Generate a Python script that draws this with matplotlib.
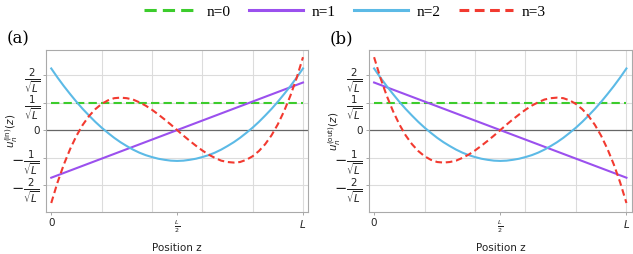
import numpy as np
from matplotlib import pyplot as plt

# sample positions along the cavity (in units of L)
z = np.linspace(0, 1, 41)
z_ends = [0, 1]

# values in units of 1/sqrt(L)
n0_in = [1.0, 1.0]
n1_in = [-1.73, 1.73]
n2_in = [2.24, 1.91, 1.60, 1.31, 1.03, 0.77, 0.53, 0.30, 0.09, -0.10, -0.28,
         -0.44, -0.58, -0.71, -0.82, -0.91, -0.98, -1.04, -1.08, -1.11, -1.12,
         -1.11, -1.08, -1.04, -0.98, -0.91, -0.82, -0.71, -0.58, -0.44, -0.28,
         -0.10, 0.09, 0.30, 0.53, 0.77, 1.03, 1.31, 1.60, 1.91, 2.24]
n3_in = [-2.65, -1.90, -1.25, -0.69, -0.21, 0.19, 0.51, 0.76, 0.95, 1.08, 1.16,
         1.18, 1.16, 1.11, 1.01, 0.89, 0.74, 0.57, 0.39, 0.20, 0.00,
         -0.20, -0.39, -0.57, -0.74, -0.89, -1.01, -1.11, -1.16, -1.18, -1.16,
         -1.08, -0.95, -0.76, -0.51, -0.19, 0.21, 0.69, 1.25, 1.90, 2.65]

n0_out = [1.0, 1.0]
n1_out = [1.73, -1.73]
n2_out = [2.24, 1.91, 1.60, 1.31, 1.03, 0.77, 0.53, 0.30, 0.09, -0.10, -0.28,
          -0.44, -0.58, -0.71, -0.82, -0.91, -0.98, -1.04, -1.08, -1.11, -1.12,
          -1.11, -1.08, -1.04, -0.98, -0.91, -0.82, -0.71, -0.58, -0.44, -0.28,
          -0.10, 0.09, 0.30, 0.53, 0.77, 1.03, 1.31, 1.60, 1.91, 2.24]
n3_out = [2.65, 1.90, 1.25, 0.69, 0.21, -0.19, -0.51, -0.76, -0.95, -1.08, -1.16,
          -1.18, -1.16, -1.11, -1.01, -0.89, -0.74, -0.57, -0.39, -0.20, 0.00,
          0.20, 0.39, 0.57, 0.74, 0.89, 1.01, 1.11, 1.16, 1.18, 1.16,
          1.08, 0.95, 0.76, 0.51, 0.19, -0.21, -0.69, -1.25, -1.90, -2.65]

labels = ['n=0', 'n=1', 'n=2', 'n=3']
ytick_vals = [-2, -1, 0, 1, 2]
ytick_labels = [r'$-\frac{2}{\sqrt{L}}$', r'$-\frac{1}{\sqrt{L}}$', '0',
                r'$\frac{1}{\sqrt{L}}$', r'$\frac{2}{\sqrt{L}}$']
xtick_vals = [0, 0.5, 1]
xtick_labels = ['0', r'$\frac{L}{2}$', r'$L$']

colors = ['#3ccc2c', '#9b50ee', '#5cbae6', '#f23a30']

plt.rcParams['mathtext.fontset'] = 'dejavusans'

fig = plt.figure(figsize=(6.33, 2.54), dpi=100)
ax_a = fig.add_axes([0.073, 0.165, 0.414, 0.638])
ax_b = fig.add_axes([0.583, 0.165, 0.415, 0.638])

panels = [
    (ax_a, n0_in, n1_in, n2_in, n3_in, r'$u_n^{\mathregular{(in)}}(z)$', '(a)'),
    (ax_b, n0_out, n1_out, n2_out, n3_out, r'$u_n^{\mathregular{(out)}}(z)$', '(b)'),
]

handles = []
for ax, n0, n1, n2, n3, ylab, tag in panels:
    for x in [0.2, 0.4, 0.6, 0.8, 1.0]:
        ax.axvline(x, color='#dcdcdc', lw=0.8, zorder=0)
    for y in [-2, -1, 1, 2]:
        ax.axhline(y, color='#dcdcdc', lw=0.8, zorder=0)
    ax.axhline(0, color='#666666', lw=0.9, zorder=1)

    h0, = ax.plot(z_ends, n0, color=colors[0], lw=1.5, dashes=(4, 2))
    h1, = ax.plot(z_ends, n1, color=colors[1], lw=1.5)
    h2, = ax.plot(z, n2, color=colors[2], lw=1.5)
    h3, = ax.plot(z, n3, color=colors[3], lw=1.5, dashes=(3.2, 1.8))
    handles = [h0, h1, h2, h3]

    ax.set_xlim(-0.02, 1.021)
    ax.set_ylim(-2.98, 2.91)
    ax.set_yticks(ytick_vals)
    ax.set_yticklabels(ytick_labels, fontsize=10.5)
    ax.get_yticklabels()[2].set_fontsize(7.5)
    ax.set_xticks(xtick_vals)
    ax.set_xticklabels(xtick_labels, fontsize=7.5)
    ax.get_xticklabels()[1].set_fontsize(6.5)
    ax.tick_params(axis='both', length=2.5, width=0.6, color='#999999',
                   labelcolor='#222222', pad=2)
    for s in ax.spines.values():
        s.set_color('#aaaaaa')
        s.set_linewidth(0.8)
    ax.set_xlabel('Position z', fontsize=7.5, color='#222222', labelpad=6)
    ax.set_ylabel(ylab, fontsize=7.5, color='#222222')
    ax.yaxis.set_label_coords(-0.10, 0.5)
    ax.text(-0.15, 1.07, tag, transform=ax.transAxes, fontsize=12,
            family='DejaVu Serif', va='center', ha='left')

fig.legend(handles, labels, loc='center', bbox_to_anchor=(0.545, 0.953),
           ncol=4, frameon=False, prop={'family': 'Liberation Serif', 'size': 11},
           handlelength=3.5, handletextpad=0.6, columnspacing=1.2)
for line in fig.legends[0].get_lines():
    line.set_linewidth(2.2)

plt.savefig('out.png', dpi=100)
